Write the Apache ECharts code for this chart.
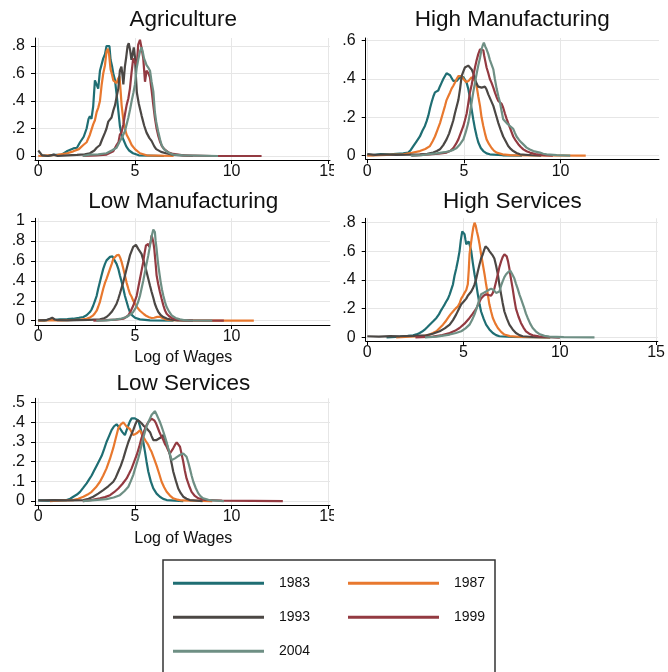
<!DOCTYPE html>
<html><head><meta charset="utf-8">
<script src="https://cdn.jsdelivr.net/npm/echarts@6/dist/echarts.min.js"></script>
<style>html,body{margin:0;padding:0;background:#fff}#c{width:668px;height:672px}</style>
</head><body><div id="c"></div>
<script>
const years = ['1983','1987','1993','1999','2004'];
const colors = ['#1f6e73','#e8782e','#4b4744','#933a41','#6e8f84'];
const panelTitles = ['Agriculture','High Manufacturing','Low Manufacturing','High Services','Low Services'];
const xAxisName = 'Log of Wages';
const xTicksA = [0,5,10,15];
const xTicksB = [0,5,10];
const yTicksAgr = [0,0.2,0.4,0.6,0.8];
const yTicksHM = [0,0.2,0.4,0.6];
const yTicksLM = [0,0.2,0.4,0.6,0.8,1];
const yTicksHS = [0,0.2,0.4,0.6,0.8];
const yTicksLS = [0,0.1,0.2,0.3,0.4,0.5];

// Agriculture
const agr1983 = [[0.1,0.005],[0.5,0.0],[0.78,0.008],[1.2,0.01],[1.47,0.034],[1.81,0.055],[2.0,0.06],[2.16,0.1],[2.35,0.14],[2.5,0.2],[2.6,0.27],[2.67,0.29],[2.75,0.27],[2.84,0.36],[2.93,0.55],[3.02,0.54],[3.1,0.49],[3.19,0.62],[3.28,0.62],[3.36,0.71],[3.45,0.74],[3.53,0.8],[3.62,0.79],[3.68,0.8],[3.74,0.7],[3.82,0.65],[3.88,0.6],[3.97,0.55],[4.05,0.45],[4.14,0.33],[4.22,0.22],[4.3,0.16],[4.4,0.12],[4.55,0.07],[4.7,0.04],[4.9,0.02],[5.2,0.005],[6.5,0.0]];
const agr1987 = [[0.0,0.0],[0.5,0.004],[1.0,0.008],[1.5,0.02],[1.81,0.034],[2.1,0.05],[2.33,0.08],[2.5,0.1],[2.67,0.155],[2.84,0.23],[2.93,0.26],[3.02,0.32],[3.1,0.35],[3.19,0.4],[3.28,0.52],[3.36,0.6],[3.45,0.66],[3.53,0.76],[3.6,0.78],[3.66,0.74],[3.74,0.63],[3.8,0.6],[3.88,0.55],[3.97,0.54],[4.05,0.53],[4.12,0.56],[4.2,0.58],[4.26,0.47],[4.31,0.37],[4.4,0.26],[4.48,0.2],[4.57,0.155],[4.7,0.12],[4.83,0.08],[5.0,0.05],[5.26,0.02],[5.6,0.005],[7.0,0.0]];
const agr1993 = [[0.0,0.04],[0.1,0.035],[0.2,0.005],[0.5,0.0],[0.8,0.01],[1.0,0.0],[1.5,0.005],[2.0,0.008],[2.4,0.012],[2.67,0.02],[2.9,0.04],[3.02,0.06],[3.19,0.08],[3.3,0.12],[3.36,0.13],[3.45,0.17],[3.53,0.2],[3.62,0.25],[3.7,0.24],[3.79,0.28],[3.88,0.33],[3.97,0.37],[4.05,0.43],[4.14,0.49],[4.22,0.62],[4.3,0.65],[4.36,0.58],[4.4,0.52],[4.48,0.65],[4.55,0.72],[4.62,0.8],[4.68,0.82],[4.75,0.77],[4.82,0.7],[4.88,0.74],[4.94,0.79],[5.0,0.72],[5.05,0.58],[5.1,0.46],[5.2,0.38],[5.35,0.29],[5.48,0.22],[5.6,0.17],[5.75,0.13],[5.86,0.11],[6.0,0.07],[6.1,0.05],[6.35,0.03],[6.6,0.02],[7.0,0.008],[8.0,0.0]];
const agr1999 = [[2.3,0.0],[3.0,0.005],[3.53,0.01],[3.88,0.034],[4.05,0.08],[4.15,0.1],[4.22,0.155],[4.3,0.17],[4.4,0.23],[4.48,0.3],[4.57,0.37],[4.66,0.42],[4.74,0.49],[4.82,0.6],[4.91,0.71],[5.0,0.68],[5.09,0.66],[5.17,0.81],[5.26,0.845],[5.35,0.78],[5.43,0.71],[5.52,0.54],[5.6,0.62],[5.7,0.6],[5.78,0.57],[5.86,0.48],[5.95,0.37],[6.03,0.28],[6.12,0.2],[6.2,0.15],[6.29,0.107],[6.4,0.07],[6.55,0.046],[6.75,0.025],[6.98,0.015],[7.5,0.005],[9.0,0.0],[11.55,0.0]];
const agr2004 = [[2.3,0.0],[2.67,0.01],[3.1,0.012],[3.53,0.02],[3.8,0.04],[4.05,0.06],[4.22,0.107],[4.35,0.14],[4.48,0.18],[4.57,0.23],[4.66,0.28],[4.75,0.34],[4.83,0.4],[4.92,0.46],[5.0,0.52],[5.09,0.64],[5.17,0.7],[5.26,0.76],[5.34,0.79],[5.4,0.76],[5.47,0.71],[5.55,0.68],[5.6,0.66],[5.7,0.64],[5.78,0.62],[5.86,0.54],[5.95,0.47],[6.03,0.32],[6.1,0.25],[6.2,0.18],[6.3,0.12],[6.38,0.08],[6.5,0.05],[6.64,0.034],[6.8,0.02],[6.98,0.01],[7.5,0.005],[9.3,0.0]];

// High Manufacturing
const hm1983 = [[0.0,0.005],[0.3,0.003],[0.7,0.008],[1.17,0.007],[1.5,0.01],[1.86,0.012],[2.12,0.016],[2.25,0.03],[2.38,0.05],[2.55,0.075],[2.72,0.1],[2.85,0.13],[2.98,0.155],[3.07,0.18],[3.16,0.21],[3.25,0.25],[3.33,0.28],[3.42,0.31],[3.5,0.33],[3.6,0.33],[3.67,0.34],[3.75,0.36],[3.84,0.38],[3.93,0.4],[4.02,0.41],[4.1,0.43],[4.2,0.43],[4.28,0.42],[4.36,0.41],[4.45,0.39],[4.53,0.39],[4.62,0.39],[4.71,0.4],[4.8,0.41],[4.88,0.415],[4.97,0.41],[5.05,0.4],[5.14,0.38],[5.22,0.35],[5.31,0.3],[5.4,0.24],[5.48,0.19],[5.57,0.14],[5.66,0.1],[5.74,0.07],[5.87,0.04],[6.0,0.024],[6.17,0.012],[6.34,0.007],[7.0,0.002],[8.0,0.0]];
const hm1987 = [[0.0,0.0],[1.0,0.004],[1.86,0.007],[2.3,0.015],[2.72,0.024],[3.0,0.035],[3.24,0.05],[3.38,0.075],[3.5,0.1],[3.63,0.135],[3.76,0.17],[3.89,0.215],[4.02,0.26],[4.1,0.29],[4.19,0.31],[4.28,0.33],[4.36,0.35],[4.45,0.365],[4.53,0.38],[4.62,0.4],[4.71,0.415],[4.8,0.42],[4.88,0.415],[4.97,0.4],[5.05,0.39],[5.11,0.385],[5.17,0.38],[5.24,0.39],[5.31,0.4],[5.4,0.41],[5.48,0.415],[5.57,0.39],[5.66,0.36],[5.74,0.31],[5.83,0.26],[5.91,0.2],[6.0,0.155],[6.09,0.115],[6.17,0.085],[6.3,0.06],[6.43,0.04],[6.56,0.025],[6.69,0.016],[7.0,0.007],[7.38,0.003],[8.5,0.001],[11.3,0.0]];
const hm1993 = [[0.0,0.008],[0.4,0.004],[0.8,0.006],[1.5,0.004],[2.2,0.005],[2.72,0.007],[3.1,0.01],[3.41,0.016],[3.6,0.024],[3.76,0.033],[3.93,0.055],[4.1,0.085],[4.23,0.115],[4.36,0.155],[4.45,0.185],[4.53,0.22],[4.62,0.255],[4.71,0.29],[4.8,0.35],[4.88,0.415],[4.97,0.44],[5.05,0.46],[5.14,0.47],[5.22,0.47],[5.31,0.465],[5.4,0.45],[5.48,0.43],[5.57,0.4],[5.66,0.375],[5.74,0.36],[5.83,0.355],[5.91,0.355],[6.0,0.36],[6.09,0.36],[6.17,0.345],[6.26,0.32],[6.39,0.29],[6.52,0.26],[6.65,0.215],[6.78,0.17],[6.9,0.135],[7.03,0.1],[7.16,0.075],[7.29,0.05],[7.42,0.035],[7.55,0.024],[7.72,0.014],[7.9,0.007],[8.5,0.002],[9.0,0.0]];
const hm1999 = [[2.3,0.0],[3.24,0.007],[3.7,0.01],[4.1,0.016],[4.3,0.025],[4.45,0.04],[4.58,0.06],[4.71,0.085],[4.84,0.12],[4.97,0.155],[5.05,0.185],[5.14,0.22],[5.22,0.27],[5.31,0.33],[5.4,0.37],[5.48,0.415],[5.57,0.46],[5.66,0.5],[5.74,0.53],[5.83,0.555],[5.91,0.555],[6.0,0.55],[6.05,0.52],[6.09,0.5],[6.17,0.46],[6.26,0.43],[6.34,0.4],[6.43,0.38],[6.52,0.355],[6.6,0.33],[6.69,0.305],[6.78,0.285],[6.86,0.275],[6.95,0.27],[7.03,0.25],[7.12,0.22],[7.2,0.195],[7.29,0.17],[7.42,0.135],[7.55,0.1],[7.68,0.078],[7.81,0.06],[7.94,0.045],[8.07,0.033],[8.24,0.023],[8.41,0.016],[8.7,0.008],[9.1,0.003],[9.6,0.0]];
const hm2004 = [[2.25,0.0],[2.8,0.003],[3.2,0.008],[3.59,0.012],[4.0,0.018],[4.28,0.024],[4.45,0.03],[4.62,0.04],[4.8,0.06],[4.97,0.085],[5.1,0.125],[5.22,0.17],[5.31,0.22],[5.4,0.28],[5.48,0.33],[5.57,0.38],[5.66,0.43],[5.74,0.47],[5.83,0.51],[5.91,0.555],[5.97,0.575],[6.03,0.59],[6.1,0.57],[6.17,0.555],[6.26,0.53],[6.34,0.5],[6.43,0.475],[6.52,0.45],[6.6,0.4],[6.69,0.35],[6.78,0.31],[6.86,0.28],[6.95,0.23],[7.03,0.19],[7.12,0.18],[7.21,0.17],[7.3,0.16],[7.38,0.155],[7.46,0.15],[7.55,0.14],[7.63,0.12],[7.72,0.1],[7.85,0.082],[7.98,0.068],[8.11,0.055],[8.24,0.042],[8.41,0.032],[8.59,0.024],[8.76,0.02],[8.93,0.016],[9.1,0.01],[9.28,0.007],[9.8,0.003],[10.5,0.0]];

// Low Manufacturing
const lm1983 = [[0.0,0.005],[0.3,0.0],[0.6,0.013],[0.7,0.02],[0.85,0.008],[1.12,0.013],[1.5,0.015],[1.81,0.02],[2.1,0.028],[2.33,0.037],[2.5,0.055],[2.67,0.087],[2.75,0.11],[2.84,0.15],[2.93,0.2],[3.02,0.25],[3.1,0.32],[3.19,0.39],[3.28,0.46],[3.36,0.52],[3.45,0.57],[3.53,0.605],[3.62,0.625],[3.71,0.64],[3.78,0.65],[3.84,0.645],[3.9,0.62],[3.97,0.6],[4.05,0.57],[4.14,0.52],[4.22,0.455],[4.31,0.39],[4.4,0.32],[4.48,0.25],[4.57,0.19],[4.66,0.13],[4.74,0.087],[4.87,0.05],[5.0,0.03],[5.26,0.013],[5.78,0.003],[7.0,0.0]];
const lm1987 = [[0.0,0.0],[0.7,0.005],[1.2,0.003],[1.81,0.007],[2.2,0.012],[2.5,0.02],[2.7,0.035],[2.84,0.054],[2.93,0.075],[3.02,0.1],[3.1,0.14],[3.19,0.19],[3.28,0.26],[3.36,0.32],[3.45,0.38],[3.53,0.42],[3.62,0.47],[3.71,0.52],[3.8,0.57],[3.88,0.62],[3.97,0.64],[4.05,0.655],[4.12,0.665],[4.17,0.66],[4.24,0.63],[4.31,0.59],[4.4,0.52],[4.48,0.455],[4.57,0.38],[4.66,0.32],[4.74,0.27],[4.83,0.24],[4.91,0.2],[5.0,0.17],[5.09,0.14],[5.17,0.12],[5.26,0.1],[5.34,0.087],[5.47,0.065],[5.6,0.047],[5.73,0.035],[5.86,0.027],[6.0,0.03],[6.15,0.038],[6.3,0.04],[6.45,0.025],[6.6,0.013],[6.9,0.006],[7.5,0.002],[9.0,0.001],[11.15,0.0]];
const lm1993 = [[0.0,0.003],[0.4,0.005],[0.6,0.02],[0.72,0.03],[0.85,0.012],[1.0,0.005],[1.5,0.004],[2.0,0.006],[2.6,0.008],[3.19,0.013],[3.4,0.025],[3.53,0.037],[3.66,0.06],[3.79,0.087],[3.92,0.125],[4.05,0.17],[4.14,0.22],[4.22,0.27],[4.31,0.33],[4.4,0.39],[4.48,0.45],[4.57,0.52],[4.66,0.59],[4.74,0.655],[4.83,0.7],[4.91,0.74],[4.98,0.75],[5.05,0.76],[5.11,0.74],[5.17,0.72],[5.25,0.7],[5.34,0.67],[5.43,0.61],[5.52,0.555],[5.6,0.49],[5.69,0.42],[5.78,0.35],[5.86,0.29],[5.95,0.23],[6.03,0.17],[6.12,0.125],[6.21,0.087],[6.34,0.055],[6.47,0.037],[6.64,0.022],[6.81,0.013],[7.2,0.004],[8.0,0.0]];
const lm1999 = [[2.85,0.0],[3.5,0.005],[4.0,0.01],[4.4,0.02],[4.53,0.035],[4.66,0.054],[4.78,0.095],[4.91,0.15],[5.0,0.2],[5.09,0.25],[5.17,0.33],[5.26,0.42],[5.34,0.5],[5.43,0.59],[5.5,0.68],[5.57,0.755],[5.63,0.765],[5.69,0.77],[5.74,0.74],[5.78,0.72],[5.82,0.8],[5.86,0.855],[5.9,0.83],[5.95,0.79],[6.0,0.72],[6.03,0.655],[6.08,0.55],[6.12,0.455],[6.2,0.37],[6.29,0.29],[6.38,0.22],[6.47,0.154],[6.55,0.105],[6.64,0.07],[6.77,0.045],[6.9,0.027],[7.1,0.014],[7.33,0.007],[8.0,0.003],[9.6,0.0]];
const lm2004 = [[3.0,0.0],[3.5,0.004],[4.05,0.013],[4.3,0.022],[4.57,0.037],[4.74,0.06],[4.91,0.087],[5.04,0.13],[5.17,0.19],[5.26,0.25],[5.34,0.32],[5.43,0.4],[5.52,0.49],[5.6,0.57],[5.69,0.655],[5.75,0.72],[5.81,0.79],[5.88,0.86],[5.95,0.915],[6.0,0.9],[6.03,0.89],[6.07,0.8],[6.12,0.72],[6.16,0.64],[6.21,0.555],[6.27,0.47],[6.33,0.39],[6.4,0.31],[6.47,0.25],[6.55,0.19],[6.64,0.137],[6.77,0.09],[6.9,0.054],[7.1,0.028],[7.33,0.013],[7.6,0.005],[7.84,0.002],[9.0,0.0]];

// High Services
const hs1983 = [[1.0,0.0],[1.69,0.005],[2.1,0.01],[2.38,0.014],[2.55,0.02],[2.72,0.03],[2.85,0.04],[2.98,0.053],[3.11,0.07],[3.24,0.088],[3.41,0.11],[3.59,0.135],[3.72,0.16],[3.84,0.19],[3.93,0.21],[4.02,0.23],[4.1,0.25],[4.19,0.27],[4.28,0.3],[4.36,0.31],[4.45,0.37],[4.53,0.43],[4.62,0.48],[4.71,0.54],[4.79,0.6],[4.86,0.68],[4.93,0.74],[5.0,0.735],[5.05,0.72],[5.1,0.68],[5.14,0.65],[5.2,0.66],[5.26,0.67],[5.33,0.64],[5.4,0.6],[5.48,0.52],[5.57,0.44],[5.66,0.37],[5.74,0.3],[5.83,0.23],[5.91,0.18],[6.04,0.13],[6.17,0.088],[6.34,0.055],[6.52,0.03],[6.69,0.015],[6.86,0.007],[7.5,0.002],[9.5,0.0]];
const hs1987 = [[1.5,0.0],[2.2,0.004],[2.72,0.007],[3.0,0.012],[3.24,0.019],[3.41,0.03],[3.59,0.042],[3.76,0.065],[3.93,0.088],[4.06,0.11],[4.19,0.135],[4.32,0.16],[4.45,0.18],[4.58,0.2],[4.71,0.216],[4.8,0.24],[4.88,0.27],[4.97,0.29],[5.05,0.31],[5.14,0.33],[5.22,0.37],[5.27,0.47],[5.31,0.58],[5.38,0.65],[5.45,0.72],[5.51,0.77],[5.57,0.8],[5.63,0.78],[5.69,0.74],[5.76,0.7],[5.83,0.65],[5.91,0.58],[6.0,0.51],[6.09,0.44],[6.17,0.37],[6.26,0.3],[6.34,0.23],[6.43,0.18],[6.52,0.135],[6.65,0.095],[6.78,0.065],[6.95,0.038],[7.12,0.019],[7.4,0.008],[8.0,0.002],[9.5,0.0]];
const hs1993 = [[0.0,0.007],[0.6,0.005],[1.2,0.008],[1.69,0.007],[2.4,0.01],[3.07,0.014],[3.4,0.025],[3.76,0.042],[4.02,0.062],[4.28,0.088],[4.45,0.12],[4.62,0.16],[4.75,0.195],[4.88,0.23],[5.01,0.25],[5.14,0.27],[5.22,0.29],[5.31,0.3],[5.4,0.32],[5.48,0.34],[5.57,0.37],[5.66,0.41],[5.74,0.46],[5.83,0.51],[5.91,0.55],[6.0,0.58],[6.07,0.61],[6.14,0.635],[6.2,0.63],[6.26,0.62],[6.35,0.6],[6.43,0.59],[6.52,0.57],[6.6,0.55],[6.69,0.5],[6.78,0.44],[6.86,0.37],[6.95,0.3],[7.03,0.24],[7.12,0.18],[7.25,0.13],[7.38,0.088],[7.55,0.055],[7.72,0.03],[7.9,0.015],[8.07,0.007],[8.6,0.002],[10.0,0.0]];
const hs1999 = [[2.5,0.0],[3.41,0.005],[3.9,0.015],[4.28,0.03],[4.55,0.045],[4.79,0.065],[5.05,0.095],[5.31,0.135],[5.48,0.165],[5.66,0.2],[5.78,0.235],[5.91,0.27],[6.04,0.29],[6.17,0.3],[6.3,0.295],[6.43,0.29],[6.52,0.31],[6.6,0.34],[6.69,0.39],[6.78,0.44],[6.86,0.49],[6.95,0.53],[7.03,0.56],[7.12,0.58],[7.18,0.575],[7.24,0.565],[7.31,0.53],[7.38,0.48],[7.46,0.41],[7.55,0.34],[7.63,0.27],[7.72,0.2],[7.85,0.145],[7.98,0.1],[8.11,0.068],[8.24,0.042],[8.41,0.025],[8.59,0.014],[8.9,0.006],[9.5,0.002],[10.0,0.0]];
const hs2004 = [[3.0,0.0],[3.6,0.005],[4.28,0.019],[4.6,0.03],[4.88,0.042],[5.1,0.062],[5.31,0.088],[5.44,0.12],[5.57,0.16],[5.66,0.195],[5.74,0.23],[5.83,0.27],[5.91,0.3],[6.04,0.31],[6.17,0.32],[6.3,0.33],[6.43,0.34],[6.56,0.33],[6.69,0.31],[6.78,0.31],[6.86,0.32],[6.95,0.36],[7.03,0.39],[7.12,0.42],[7.21,0.44],[7.32,0.455],[7.43,0.465],[7.53,0.44],[7.64,0.41],[7.72,0.375],[7.81,0.34],[7.9,0.3],[7.98,0.27],[8.07,0.235],[8.16,0.2],[8.24,0.165],[8.33,0.135],[8.46,0.095],[8.59,0.065],[8.76,0.04],[8.93,0.023],[9.2,0.01],[9.45,0.005],[10.2,0.001],[11.8,0.0]];

// Low Services
const ls1983 = [[0.0,0.003],[0.5,0.002],[1.0,0.004],[1.47,0.005],[1.65,0.012],[1.81,0.022],[2.0,0.033],[2.16,0.047],[2.33,0.068],[2.5,0.09],[2.63,0.11],[2.76,0.13],[2.89,0.155],[3.02,0.18],[3.15,0.205],[3.28,0.23],[3.41,0.265],[3.53,0.3],[3.66,0.33],[3.79,0.36],[3.92,0.38],[4.05,0.39],[4.12,0.385],[4.22,0.37],[4.35,0.35],[4.48,0.335],[4.57,0.36],[4.66,0.385],[4.74,0.405],[4.83,0.42],[4.91,0.42],[5.0,0.42],[5.09,0.415],[5.17,0.41],[5.26,0.38],[5.34,0.35],[5.43,0.3],[5.52,0.25],[5.6,0.2],[5.69,0.15],[5.82,0.1],[5.95,0.064],[6.12,0.038],[6.29,0.022],[6.46,0.011],[6.64,0.005],[7.5,0.0]];
const ls1987 = [[0.6,0.0],[1.2,0.003],[1.81,0.005],[2.07,0.012],[2.33,0.022],[2.55,0.033],[2.76,0.047],[2.98,0.07],[3.19,0.098],[3.36,0.13],[3.53,0.166],[3.71,0.215],[3.88,0.27],[4.01,0.32],[4.14,0.37],[4.27,0.39],[4.4,0.4],[4.48,0.39],[4.57,0.378],[4.66,0.37],[4.74,0.366],[4.83,0.35],[4.91,0.335],[5.0,0.34],[5.09,0.344],[5.17,0.352],[5.26,0.36],[5.34,0.345],[5.43,0.327],[5.56,0.305],[5.69,0.285],[5.78,0.265],[5.86,0.25],[5.99,0.215],[6.12,0.18],[6.25,0.14],[6.38,0.098],[6.51,0.07],[6.64,0.047],[6.81,0.028],[6.98,0.014],[7.2,0.007],[7.41,0.003],[9.0,0.0]];
const ls1993 = [[0.0,0.003],[0.8,0.005],[1.6,0.004],[2.33,0.005],[2.6,0.012],[2.84,0.022],[3.1,0.038],[3.36,0.056],[3.62,0.075],[3.88,0.098],[4.01,0.12],[4.14,0.15],[4.27,0.18],[4.4,0.217],[4.53,0.26],[4.66,0.3],[4.78,0.33],[4.91,0.36],[5.02,0.39],[5.12,0.41],[5.23,0.405],[5.34,0.395],[5.47,0.38],[5.6,0.37],[5.69,0.36],[5.78,0.35],[5.86,0.33],[5.95,0.31],[6.04,0.305],[6.12,0.31],[6.21,0.315],[6.29,0.32],[6.38,0.33],[6.47,0.335],[6.55,0.315],[6.64,0.29],[6.72,0.265],[6.81,0.234],[6.9,0.19],[6.98,0.15],[7.11,0.105],[7.24,0.064],[7.37,0.04],[7.5,0.022],[7.67,0.012],[7.84,0.005],[8.5,0.0]];
const ls1999 = [[2.3,0.0],[2.8,0.006],[3.19,0.014],[3.45,0.02],[3.71,0.03],[3.92,0.045],[4.14,0.064],[4.36,0.088],[4.57,0.115],[4.7,0.14],[4.83,0.166],[4.96,0.2],[5.09,0.234],[5.22,0.275],[5.34,0.32],[5.47,0.355],[5.6,0.386],[5.69,0.4],[5.78,0.41],[5.86,0.418],[5.91,0.42],[6.0,0.41],[6.09,0.395],[6.17,0.375],[6.26,0.352],[6.36,0.33],[6.47,0.31],[6.55,0.29],[6.64,0.276],[6.72,0.258],[6.81,0.242],[6.9,0.25],[6.98,0.268],[7.07,0.285],[7.16,0.298],[7.24,0.29],[7.33,0.276],[7.41,0.24],[7.5,0.2],[7.58,0.155],[7.67,0.115],[7.8,0.078],[7.93,0.047],[8.1,0.026],[8.28,0.014],[8.6,0.006],[9.5,0.002],[12.65,0.0]];
const ls2004 = [[2.3,0.0],[2.9,0.005],[3.53,0.01],[3.9,0.018],[4.22,0.03],[4.45,0.05],[4.66,0.073],[4.78,0.1],[4.91,0.132],[5.04,0.175],[5.17,0.217],[5.26,0.25],[5.34,0.285],[5.43,0.32],[5.52,0.352],[5.6,0.378],[5.69,0.4],[5.78,0.42],[5.86,0.437],[5.95,0.447],[6.03,0.457],[6.12,0.44],[6.21,0.42],[6.3,0.4],[6.38,0.378],[6.47,0.352],[6.55,0.327],[6.64,0.298],[6.72,0.268],[6.81,0.238],[6.9,0.208],[6.98,0.212],[7.07,0.217],[7.2,0.226],[7.33,0.234],[7.5,0.242],[7.58,0.238],[7.67,0.225],[7.76,0.196],[7.84,0.166],[7.93,0.13],[8.02,0.098],[8.15,0.065],[8.28,0.039],[8.4,0.024],[8.53,0.014],[8.8,0.006],[9.05,0.003],[9.6,0.0]];

const panelData = [
  [agr1983, agr1987, agr1993, agr1999, agr2004],
  [hm1983, hm1987, hm1993, hm1999, hm2004],
  [lm1983, lm1987, lm1993, lm1999, lm2004],
  [hs1983, hs1987, hs1993, hs1999, hs2004],
  [ls1983, ls1987, ls1993, ls1999, ls2004]
];
const panelXTicks = [xTicksA, xTicksB, xTicksB, xTicksA, xTicksA];
const panelYTicks = [yTicksAgr, yTicksHM, yTicksLM, yTicksHS, yTicksLS];

// layout (pixels / axis extents)
const layout = [
  {grid:{left:35, top:38, width:295, height:122}, x:[-0.17,15.09], y:[-0.029,0.858], title:[183.3,19.7]},
  {grid:{left:365.7, top:38, width:293.3, height:121.3}, x:[-0.083,15.09], y:[-0.019,0.614], title:[512.3,19.7]},
  {grid:{left:35, top:218.3, width:295, height:106.7}, x:[-0.17,15.09], y:[-0.043,1.027], title:[183.3,201.7], xname:357.8},
  {grid:{left:365.7, top:218.3, width:293.3, height:122.7}, x:[-0.083,15.09], y:[-0.026,0.831], title:[512.3,202]},
  {grid:{left:35, top:398.3, width:295, height:106.7}, x:[-0.17,15.09], y:[-0.02,0.522], title:[183.3,383.3], xname:538.5}
];

const FONT = '"Liberation Sans", Arial, sans-serif';
const TXT = '#111';
const yFmt = v => { if (Math.abs(v) < 1e-9) return '0'; const s = String(+v.toFixed(2)); return s.replace(/^0\./, '.'); };

const grids = [], xAxes = [], yAxes = [], series = [], graphics = [];
layout.forEach((L, i) => {
  grids.push(Object.assign({containLabel:false}, L.grid));
  xAxes.push({
    type:'value', gridIndex:i, min:L.x[0], max:L.x[1],
    axisLine:{show:true, onZero:false, lineStyle:{color:'#000', width:1}},
    axisTick:{show:true, length:4, inside:false, customValues:panelXTicks[i], lineStyle:{color:'#000', width:1}},
    axisLabel:{show:true, customValues:panelXTicks[i], margin:4, fontSize:16, fontFamily:FONT, color:TXT, formatter:v=>String(Math.round(v))},
    splitLine:{show:true, lineStyle:{color:'#e6e6e6', width:1}}
  });
  yAxes.push({
    type:'value', gridIndex:i, min:L.y[0], max:L.y[1],
    axisLine:{show:true, onZero:false, lineStyle:{color:'#000', width:1}},
    axisTick:{show:true, length:4, inside:false, customValues:panelYTicks[i], lineStyle:{color:'#000', width:1}},
    axisLabel:{show:true, customValues:panelYTicks[i], margin:10, fontSize:16, fontFamily:FONT, color:TXT, formatter:yFmt},
    splitLine:{show:true, lineStyle:{color:'#e6e6e6', width:1}}
  });
  panelData[i].forEach((d, k) => {
    series.push({
      type:'line', name:years[k], xAxisIndex:i, yAxisIndex:i, data:d,
      showSymbol:false, symbol:'none', color:colors[k],
      lineStyle:{color:colors[k], width:2.2}, z:2+k
    });
  });
  graphics.push({type:'text', x:L.title[0], y:L.title[1], z:10,
    style:{text:panelTitles[i], font:'22.5px ' + FONT, fill:TXT, align:'center', verticalAlign:'middle'}});
  if (L.xname) {
    graphics.push({type:'text', x:183.3, y:L.xname, z:10,
      style:{text:xAxisName, font:'16px ' + FONT, fill:TXT, align:'center', verticalAlign:'middle'}});
  }
});
// clip the left-column "15" labels at the panel edge, like the original combine
graphics.push({type:'rect', shape:{x:334, y:161, width:5, height:24}, style:{fill:'#fff'}, z:20});
graphics.push({type:'rect', shape:{x:334, y:506, width:5, height:24}, style:{fill:'#fff'}, z:20});
// legend frame
graphics.push({type:'rect', shape:{x:163, y:560, width:332, height:130}, style:{fill:'none', stroke:'#333', lineWidth:1.5}, z:5});

const legendCommon = {
  orient:'vertical', itemWidth:91, itemHeight:3, itemGap:18, icon:'rect', padding:0,
  selectedMode:false,
  textStyle:{fontSize:14, fontFamily:FONT, color:TXT, lineHeight:16, padding:[0,0,0,10]}
};

const option = {
  animation:false,
  backgroundColor:'#fff',
  grid:grids, xAxis:xAxes, yAxis:yAxes, series:series,
  legend:[
    Object.assign({data:['1983','1993','2004'], left:173, top:575.3}, legendCommon),
    Object.assign({data:['1987','1999'], left:348, top:575.3}, legendCommon)
  ],
  graphic:graphics
};
const chart = echarts.init(document.getElementById('c'), null, {renderer:'canvas'});
chart.setOption(option);
</script>
</body></html>
